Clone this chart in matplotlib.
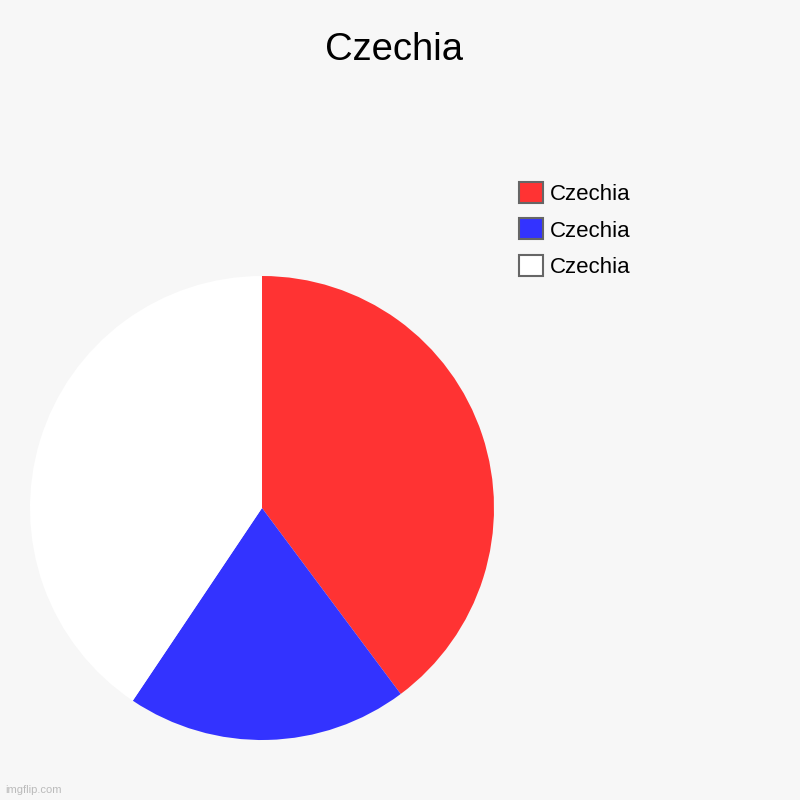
import matplotlib
matplotlib.use("Agg")
import matplotlib.pyplot as plt
from matplotlib.patches import Patch

labels = ["Czechia", "Czechia", "Czechia"]
values = [39.8, 19.6, 40.6]
colors = ["#ff3333", "#3333ff", "#ffffff"]

plt.rcParams['font.family'] = ['Liberation Sans', 'DejaVu Sans']

fig = plt.figure(figsize=(8, 8), dpi=100)
fig.patch.set_facecolor("#f7f7f7")

ax = fig.add_axes([0.0375, 0.075, 0.58, 0.58])
ax.pie(values, colors=colors, startangle=90, counterclock=False,
       wedgeprops=dict(linewidth=0))
ax.set_xlim(-1, 1)
ax.set_ylim(-1, 1)
ax.set_aspect("equal")

fig.text(0.4925, 0.938, "Czechia", ha="center", va="center", fontsize=27.5)

handles = [Patch(facecolor=c, edgecolor="#666666", linewidth=1.5) for c in colors]
fig.legend(handles, labels, loc="upper left", bbox_to_anchor=(0.6485, 0.7725),
           frameon=False, fontsize=16, handlelength=1.08, handleheight=1.08,
           handletextpad=0.3, labelspacing=0.6, borderaxespad=0, borderpad=0)

fig.text(0.006, 0.006, "imgflip.com", fontsize=8, color="#bbbbbb", ha="left", va="bottom")

fig.savefig("out.png", dpi=100, facecolor=fig.get_facecolor())
